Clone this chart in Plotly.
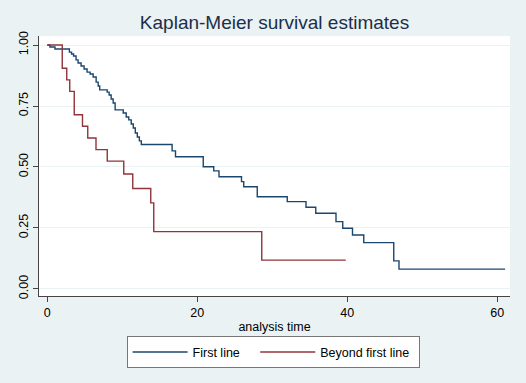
import plotly.graph_objects as go

# First line group: step times and survival estimates
first_time = [0, 0.36, 1.03, 2.95, 3.24, 3.51, 3.84, 4.11, 4.51, 4.91, 5.31, 5.72,
              6.12, 6.52, 6.79, 6.99, 7.99, 8.25, 8.52, 8.79, 9.05, 10.13, 10.53,
              10.87, 11.2, 11.47, 11.74, 12.01, 12.28, 12.54, 16.65, 17.1, 20.8,
              22.2, 22.9, 25.9, 26.2, 28.0, 32.0, 34.5, 35.8, 38.5, 39.4, 40.7,
              42.2, 46.2, 46.9, 61.05]
first_surv = [1.0, 0.992, 0.984, 0.971, 0.963, 0.955, 0.939, 0.926, 0.914, 0.902,
              0.889, 0.881, 0.869, 0.848, 0.832, 0.816, 0.807, 0.795, 0.779, 0.762,
              0.734, 0.721, 0.705, 0.693, 0.676, 0.66, 0.639, 0.623, 0.607, 0.592,
              0.566, 0.542, 0.501, 0.484, 0.46, 0.44, 0.419, 0.378, 0.358, 0.335,
              0.31, 0.276, 0.249, 0.221, 0.19, 0.115, 0.081, 0.081]

# Beyond first line group
beyond_time = [0, 2.0, 2.6, 3.0, 3.6, 4.7, 5.4, 6.5, 8.0, 10.2, 11.4, 13.8, 14.2, 28.6, 39.8]
beyond_surv = [1.0, 0.905, 0.857, 0.81, 0.714, 0.667, 0.619, 0.571, 0.524, 0.471,
               0.412, 0.353, 0.235, 0.118, 0.118]

series_names = ["First line", "Beyond first line"]
x_ticks = [0, 20, 40, 60]
y_ticks = [0, 0.25, 0.5, 0.75, 1.0]
y_ticklabels = ["0.00", "0.25", "0.50", "0.75", "1.00"]

BG = "#eaf2f3"
FONT = "Liberation Sans, Arial, sans-serif"
NBSP = "\u00a0"

fig = go.Figure()
fig.add_trace(go.Scatter(x=first_time, y=first_surv, mode="lines",
                         name=series_names[0] + NBSP * 3,
                         line=dict(color="#1a476f", width=1.4, shape="hv")))
fig.add_trace(go.Scatter(x=beyond_time, y=beyond_surv, mode="lines",
                         name=series_names[1] + NBSP,
                         line=dict(color="#90353b", width=1.4, shape="hv")))

fig.update_layout(
    width=526, height=383,
    margin=dict(l=39, r=16, t=36, b=87, autoexpand=False),
    paper_bgcolor=BG, plot_bgcolor="white",
    font=dict(family=FONT, color="#000000", size=12),
    title=dict(text="Kaplan-Meier survival estimates", x=0.5, xref="paper",
               xanchor="center", y=1 - 22 / 383, yanchor="middle", yref="container",
               font=dict(size=19, color="#1c2e4a")),
    showlegend=True,
    legend=dict(orientation="h", x=0.497, xanchor="center", y=-0.217, yanchor="middle",
                bgcolor="white", bordercolor="#777777", borderwidth=1,
                font=dict(size=12.5), itemwidth=55, itemclick=False),
    xaxis=dict(range=[-1.1, 61.7], tickvals=x_ticks, ticks="outside", ticklen=5,
               tickcolor="#444444", showline=True, linecolor="#444444", linewidth=1,
               showgrid=False, zeroline=False, tickfont=dict(size=12.5), automargin=False,
               title=dict(text="analysis time", font=dict(size=12.5), standoff=3)),
    yaxis=dict(range=[-0.029, 1.037], tickvals=y_ticks, ticktext=y_ticklabels,
               ticks="outside", ticklen=5, tickcolor="#444444", tickangle=-90,
               showline=True, linecolor="#444444", linewidth=1, automargin=False,
               showgrid=True, gridcolor=BG, gridwidth=1, zeroline=False,
               tickfont=dict(size=12.5)),
)

fig.write_html("out.html", config={"displayModeBar": False},
               post_script="document.body.style.margin='0';document.body.style.padding='0';")
